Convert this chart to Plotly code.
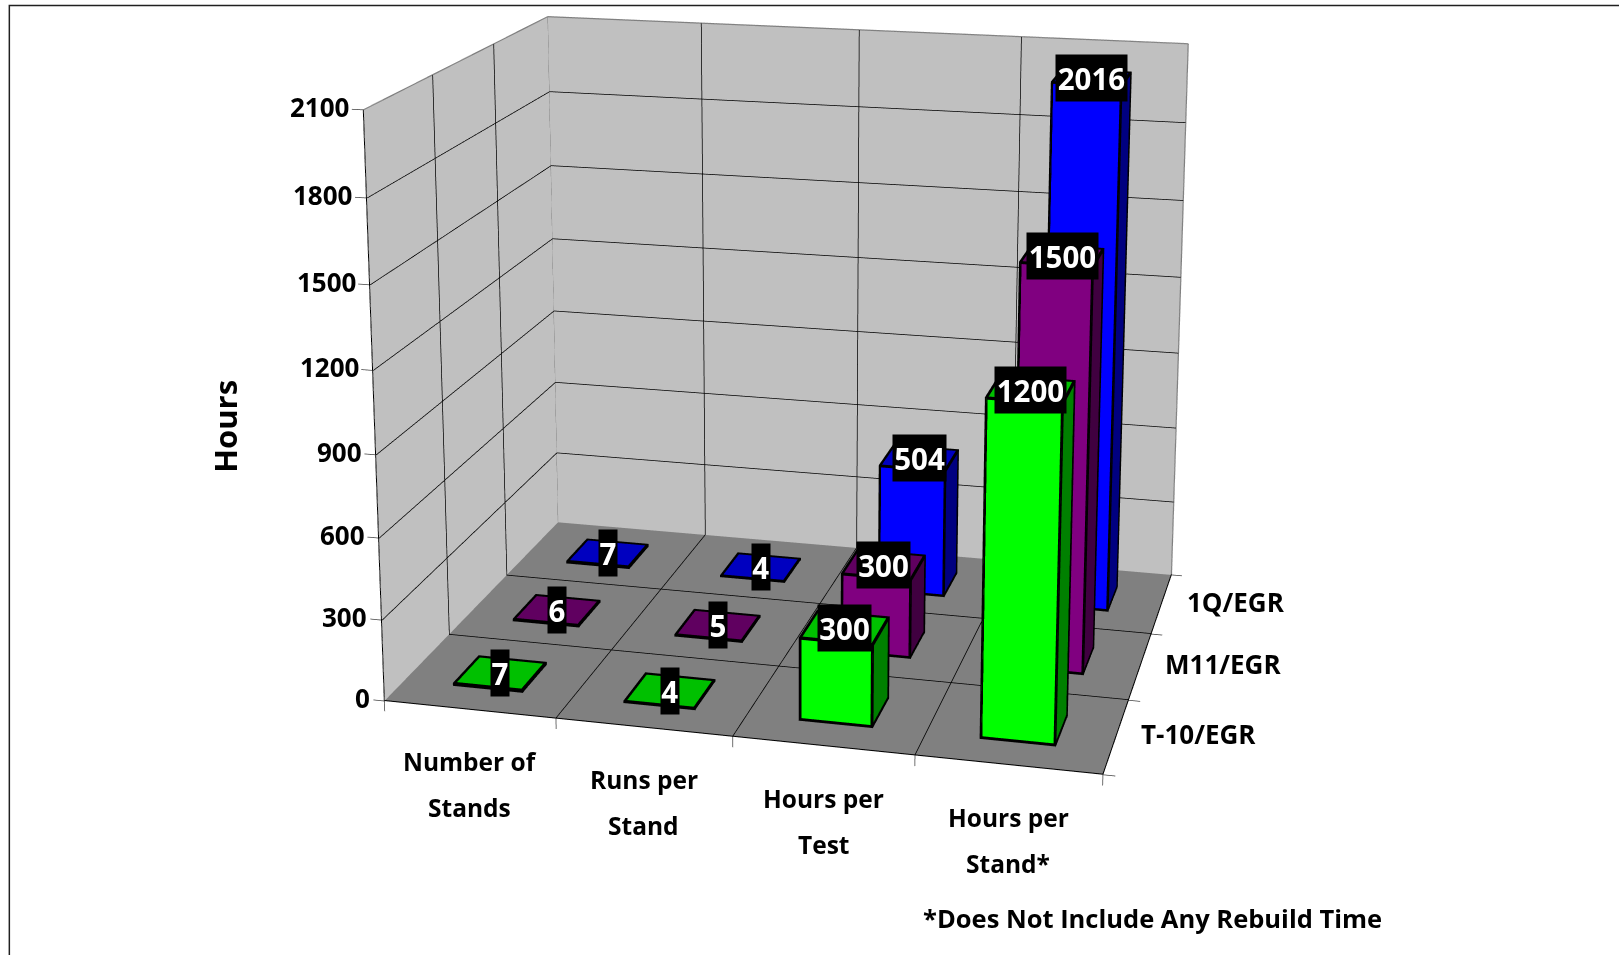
import numpy as np
import plotly.graph_objects as go

categories = [["Number of", "Stands"], ["Runs per", "Stand"], ["Hours per", "Test"], ["Hours per", "Stand*"]]
series_names = ["T-10/EGR", "M11/EGR", "1Q/EGR"]
t10_egr = [7, 4, 300, 1200]
m11_egr = [6, 5, 300, 1500]
q1_egr = [7, 4, 504, 2016]
z_ticks = [0, 300, 600, 900, 1200, 1500, 1800, 2100]
series_values = [t10_egr, m11_egr, q1_egr]
front_colors = ["#00FF00", "#800080", "#0000FF"]
side_colors = ["#008000", "#400040", "#000080"]
top_colors = ["#00C000", "#600060", "#0000C0"]

# Camera: pinhole view of the box, focal length and principal point in window pixels.
eye = np.array([0.95344, -3.85989, 1.1759])
yaw, pitch, roll = -0.24467, -0.23333, -0.00045
ay, az = 0.754, 0.83533
F, PX, PY = 2886.37, 792.66, 204.11

fwd = np.array([np.sin(yaw) * np.cos(pitch), np.cos(yaw) * np.cos(pitch), np.sin(pitch)])
side = np.cross(fwd, [0, 0, 1.0])
side /= np.linalg.norm(side)
up0 = np.cross(side, fwd)
up = -np.sin(roll) * side + np.cos(roll) * up0

# The 45-degree field of view of the scene needs a figure larger than the window.
FH = int(round(2 * F * np.tan(np.pi / 8)))
FW = 2 * int(max(PX, 1619 - PX) + 60)
OX = FW / 2 - PX
OY = FH / 2 - PY


def xp(v):
    return (v + OX) / FW


def yp(v):
    return 1 - (v + OY) / FH


XR = [-0.5, 4.5]
YR = [-0.5, 3.5]
ZR = [-300, 2400]


def seg_trace(segs, color, width):
    xs, ys, zs = [], [], []
    for a, b in segs:
        xs += [a[0], b[0], None]
        ys += [a[1], b[1], None]
        zs += [a[2], b[2], None]
    return go.Scatter3d(x=xs, y=ys, z=zs, mode="lines", line=dict(color=color, width=width),
                        hoverinfo="skip", showlegend=False)


def quad_mesh(quads):
    xs, ys, zs, ii, jj, kk, fc = [], [], [], [], [], [], []
    for q, col in quads:
        n = len(xs)
        for v in q:
            xs.append(v[0])
            ys.append(v[1])
            zs.append(v[2])
        ii += [n, n]
        jj += [n + 1, n + 2]
        kk += [n + 2, n + 3]
        fc += [col, col]
    return go.Mesh3d(x=xs, y=ys, z=zs, i=ii, j=jj, k=kk, facecolor=fc, flatshading=True,
                     lighting=dict(ambient=1, diffuse=0, specular=0, roughness=1, fresnel=0),
                     hoverinfo="skip", showlegend=False)


def beam_quads(a, b, hx, hy, hz, color):
    """Six faces of a thin axis-aligned box around the edge a-b."""
    x0, x1 = min(a[0], b[0]) - hx, max(a[0], b[0]) + hx
    y0, y1 = min(a[1], b[1]) - hy, max(a[1], b[1]) + hy
    z0, z1 = min(a[2], b[2]) - hz, max(a[2], b[2]) + hz
    return [([(x0, y0, z0), (x1, y0, z0), (x1, y0, z1), (x0, y0, z1)], color),
            ([(x0, y1, z0), (x1, y1, z0), (x1, y1, z1), (x0, y1, z1)], color),
            ([(x0, y0, z0), (x0, y1, z0), (x0, y1, z1), (x0, y0, z1)], color),
            ([(x1, y0, z0), (x1, y1, z0), (x1, y1, z1), (x1, y0, z1)], color),
            ([(x0, y0, z0), (x1, y0, z0), (x1, y1, z0), (x0, y1, z0)], color),
            ([(x0, y0, z1), (x1, y0, z1), (x1, y1, z1), (x0, y1, z1)], color)]


nx, ny = len(categories), len(series_names)
zt = z_ticks[-1]
wall_grey = "#C0C0C0"
floor_grey = "#808080"
walls = [([(0, 0, 0), (0, ny, 0), (0, ny, zt), (0, 0, zt)], wall_grey),
         ([(0, ny, 0), (nx, ny, 0), (nx, ny, zt), (0, ny, zt)], wall_grey),
         ([(0, 0, 0), (nx, 0, 0), (nx, ny, 0), (0, ny, 0)], floor_grey)]
traces = [quad_mesh(walls)]
e = 0.004
ez = 2
grid = []
for z in z_ticks[1:-1]:
    grid += [((e, 0, z), (e, ny - e, z)), ((e, ny - e, z), (nx, ny - e, z))]
for x in range(1, nx):
    grid += [((x, e, ez), (x, ny - e, ez)), ((x, ny - e, 0), (x, ny - e, zt))]
for y in range(1, ny):
    grid += [((e, y, ez), (nx, y, ez)), ((e, y, 0), (e, y, zt))]
traces.append(seg_trace(grid, "#000000", 1.5))
traces.append(seg_trace([((0, 0, zt), (0, ny, zt)), ((0, ny, zt), (nx, ny, zt)),
                         ((0, ny, 0), (0, ny, zt)), ((nx, ny, 0), (nx, ny, zt))], "#808080", 2.5))
edge = [((0, 0, 0), (0, 0, zt)), ((0, 0, ez), (nx, 0, ez)), ((nx, 0, ez), (nx, ny, ez))]
tick = []
for z in z_ticks:
    tick.append(((0, 0, z), (-0.065, 0, z)))
for x in range(nx + 1):
    tick.append(((x, 0, 0), (x, 0, -38)))
for y in range(ny + 1):
    tick.append(((nx, y, 0), (nx + 0.065, y, 0)))
traces.append(seg_trace(edge, "#000000", 2))
traces.append(seg_trace(tick, "#404040", 1.5))

bw = 0.4
hx, hy, hz = 0.0065, 0.008, 4
bar_quads = []
for j, vals in enumerate(series_values):
    for i, v in enumerate(vals):
        x0, x1 = i + .5 - bw / 2, i + .5 + bw / 2
        y0, y1 = j + .5 - bw / 2, j + .5 + bw / 2
        bar_quads += [([(x0, y0, 0), (x1, y0, 0), (x1, y0, v), (x0, y0, v)], front_colors[j]),
                      ([(x1, y0, 0), (x1, y1, 0), (x1, y1, v), (x1, y0, v)], side_colors[j]),
                      ([(x0, y0, v), (x1, y0, v), (x1, y1, v), (x0, y1, v)], top_colors[j]),
                      ([(x0, y1, 0), (x0, y0, 0), (x0, y0, v), (x0, y1, v)], front_colors[j]),
                      ([(x0, y1, 0), (x1, y1, 0), (x1, y1, v), (x0, y1, v)], side_colors[j])]
        for a, b in [((x0, y0, hz), (x1, y0, hz)), ((x1, y0, hz), (x1, y1, hz)), ((x0, y0, 0), (x0, y0, v)),
                     ((x1, y0, 0), (x1, y0, v)), ((x1, y1, 0), (x1, y1, v)), ((x0, y0, v), (x1, y0, v)),
                     ((x1, y0, v), (x1, y1, v)), ((x1, y1, v), (x0, y1, v)), ((x0, y1, v), (x0, y0, v))]:
            bar_quads += beam_quads(a, b, hx, hy, hz, "#000000")
traces.append(quad_mesh(bar_quads))

FONT = "Open Sans"
ann = []
for i, lines in enumerate(categories):
    for k, t in enumerate(lines):
        ann.append(dict(x=i + .5, y=0, z=0, text=t, showarrow=False, xanchor="center", yanchor="middle",
                        yshift=-52 - 46 * k, font=dict(family=FONT, size=24.5, color="black", weight=700)))
for j, t in enumerate(series_names):
    ann.append(dict(x=nx, y=j + .5, z=0, text=t, showarrow=False, xanchor="left", yanchor="middle",
                    xshift=23, yshift=2, font=dict(family=FONT, size=26, color="black", weight=700)))
for z in z_ticks:
    ann.append(dict(x=0, y=0, z=z, text=str(z), showarrow=False, xanchor="right", yanchor="middle",
                    xshift=-12, yshift=3, font=dict(family=FONT, size=26, color="black", weight=700)))
for j, vals in enumerate(series_values):
    for i, v in enumerate(vals):
        ann.append(dict(x=i + .5, y=j + .5, z=v, text=str(v), showarrow=False, xanchor="center", yanchor="middle",
                        bgcolor="black", width=17.7 * len(str(v)), height=46, borderpad=0,
                        font=dict(family=FONT, size=29.5, color="white", weight=700)))

paper_ann = [dict(xref="paper", yref="paper", x=xp(225), y=yp(426), text="Hours", textangle=-90, showarrow=False,
                  xanchor="center", yanchor="middle", font=dict(family=FONT, size=31, color="black", weight=700)),
             dict(xref="paper", yref="paper", x=xp(1152), y=yp(918), text="*Does Not Include Any Rebuild Time",
                  showarrow=False, xanchor="center", yanchor="middle",
                  font=dict(family=FONT, size=25.5, color="black", weight=700))]

noax = dict(visible=False, showspikes=False)
fig = go.Figure(traces)
fig.update_layout(
    width=FW, height=FH, margin=dict(l=0, r=0, t=0, b=0, pad=0), paper_bgcolor="white", showlegend=False,
    annotations=paper_ann,
    shapes=[dict(type="rect", xref="paper", yref="paper", x0=xp(9), y0=yp(5), x1=xp(1800), y1=yp(1100),
                 line=dict(color="#202020", width=1.5), fillcolor="rgba(0,0,0,0)")],
    scene=dict(domain=dict(x=[0, 1], y=[0, 1]), bgcolor="rgba(0,0,0,0)", aspectmode="manual",
               aspectratio=dict(x=1.0 * (XR[1] - XR[0]) / nx, y=ay * (YR[1] - YR[0]) / ny,
                                z=az * (ZR[1] - ZR[0]) / zt),
               xaxis=dict(range=XR, **noax), yaxis=dict(range=YR, **noax), zaxis=dict(range=ZR, **noax),
               camera=dict(eye=dict(x=eye[0], y=eye[1], z=eye[2]),
                           center=dict(x=eye[0] + 4 * fwd[0], y=eye[1] + 4 * fwd[1], z=eye[2] + 4 * fwd[2]),
                           up=dict(x=up[0], y=up[1], z=up[2]), projection=dict(type="perspective")),
               annotations=ann, hovermode=False, dragmode=False))
post = ("var gd=document.getElementById('{plot_id}');gd.style.position='fixed';gd.style.left='%dpx';gd.style.top='%dpx';"
        "document.documentElement.style.overflow='hidden';document.body.style.overflow='hidden';") % (-OX, -OY)
fig.write_html("out.html", config=dict(displayModeBar=False), post_script=post,
               default_width="%dpx" % FW, default_height="%dpx" % FH)
